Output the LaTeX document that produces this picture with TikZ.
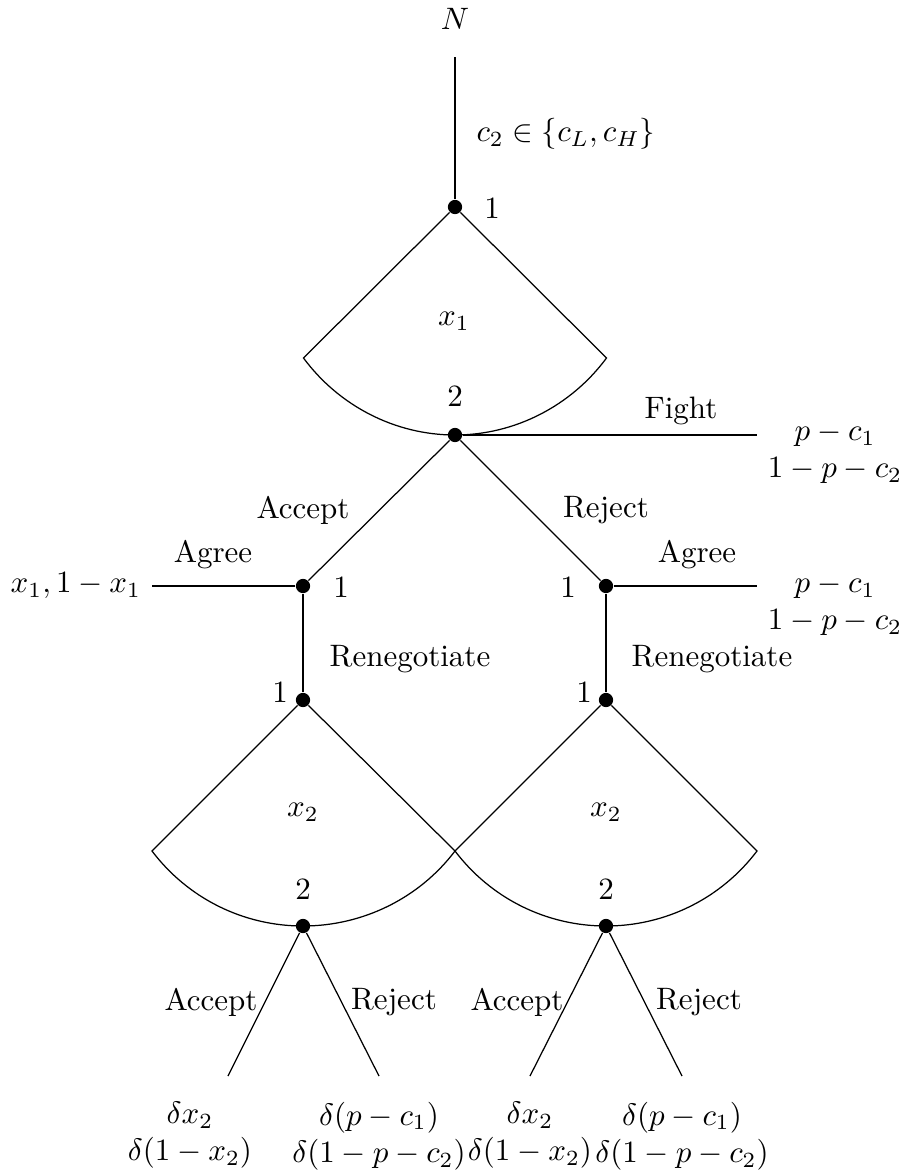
\documentclass[tikz,border=0pt]{standalone}
\begin{document}
\begin{tikzpicture}[x=0.3226pt,y=-0.3226pt,
  dot/.style={circle,fill=black,inner sep=0pt,minimum size=4.6pt},
  thickline/.style={line width=0.8pt},
  thinline/.style={line width=0.4pt},
  pay/.style={align=center}]
\useasboundingbox (0,0) rectangle (908,1174);
% decision nodes
\node[dot] (root) at (455,207) {};
\node[dot] (n2) at (455,435) {};
\node[dot] (aL) at (303,586) {};
\node[dot] (aR) at (606,586) {};
\node[dot] (bL) at (303,700) {};
\node[dot] (bR) at (606,700) {};
\node[dot] (cL) at (303,926) {};
\node[dot] (cR) at (606,926) {};
% free ends
\coordinate (top) at (455,57);
\coordinate (ftL) at (303.5,358);
\coordinate (ftR) at (606.5,358);
\coordinate (fightend) at (757,435);
\coordinate (agL) at (152,586);
\coordinate (agR) at (757,586);
\coordinate (flL) at (152,851);
\coordinate (flM) at (455,851);
\coordinate (frR) at (757,851);
\coordinate (eLL) at (228,1076);
\coordinate (eLR) at (379,1076);
\coordinate (eRL) at (530,1076);
\coordinate (eRR) at (682,1076);
% edges
\draw[thickline] (top) -- (root);
\draw[thinline] (root) -- (ftL) .. controls +(35.5,48) and +(-59.7,0) .. (n2.center)
  .. controls +(59.7,0) and +(-35.5,48) .. (ftR) -- (root);
\draw[thickline] (n2) -- (fightend);
\draw[thinline] (n2) -- (aL);
\draw[thinline] (n2) -- (aR);
\draw[thickline] (aL) -- (agL);
\draw[thickline] (aR) -- (agR);
\draw[thickline] (aL) -- (bL);
\draw[thickline] (aR) -- (bR);
\draw[thinline] (bL) -- (flL) .. controls +(36,47.5) and +(-59.5,0) .. (cL.center)
  .. controls +(59.5,0) and +(-36,47.5) .. (flM) -- (bL);
\draw[thinline] (bR) -- (flM) .. controls +(36,47.5) and +(-59.5,0) .. (cR.center)
  .. controls +(59.5,0) and +(-36,47.5) .. (frR) -- (bR);
\draw[thinline] (cL) -- (eLL);
\draw[thinline] (cL) -- (eLR);
\draw[thinline] (cR) -- (eRL);
\draw[thinline] (cR) -- (eRR);
% labels
\node (lN) at (455,19) {$N$};
\node (lc) at (566,134) {$c_2\in\{c_L,c_H\}$};
\node (lroot) at (492,209) {$1$};
\node (lx1) at (454,321) {$x_1$};
\node (l2top) at (455,397) {$2$};
\node (lfight) at (681,411) {Fight};
\node (lacc) at (303,510) {Accept};
\node (lrej) at (606,510) {Reject};
\node (lagL) at (213,555) {Agree};
\node (lagR) at (697,555) {Agree};
\node (l1aL) at (341,588) {$1$};
\node (l1aR) at (568,588) {$1$};
\node (lrenL) at (410,659) {Renegotiate};
\node (lrenR) at (712,659) {Renegotiate};
\node (l1bL) at (280,693) {$1$};
\node (l1bR) at (584,693) {$1$};
\node (lx2L) at (303,812) {$x_2$};
\node (lx2R) at (606,812) {$x_2$};
\node (l2L) at (303,889) {$2$};
\node (l2R) at (606,889) {$2$};
\node (laccL) at (211,1002) {Accept};
\node (lrejL) at (394,1002) {Reject};
\node (laccR) at (517,1002) {Accept};
\node (lrejR) at (699,1002) {Reject};
% payoffs
\node[pay,anchor=west] (payF) at (fightend |- 0,453) {$p-c_1$\\$1-p-c_2$};
\node[pay,anchor=west] (payAR) at (agR |- 0,605) {$p-c_1$\\$1-p-c_2$};
\node[anchor=east] (payAL) at (agL) {$x_1, 1-x_1$};
\node[pay,anchor=north] (pLL) at (190,1091) {$\delta x_2$\\$\delta(1-x_2)$};
\node[pay,anchor=north] (pLR) at (eLR |- 0,1091) {$\delta(p-c_1)$\\$\delta(1-p-c_2)$};
\node[pay,anchor=north] (pRL) at (eRL |- 0,1091) {$\delta x_2$\\$\delta(1-x_2)$};
\node[pay,anchor=north] (pRR) at (eRR |- 0,1091) {$\delta(p-c_1)$\\$\delta(1-p-c_2)$};
\end{tikzpicture}
\end{document}
